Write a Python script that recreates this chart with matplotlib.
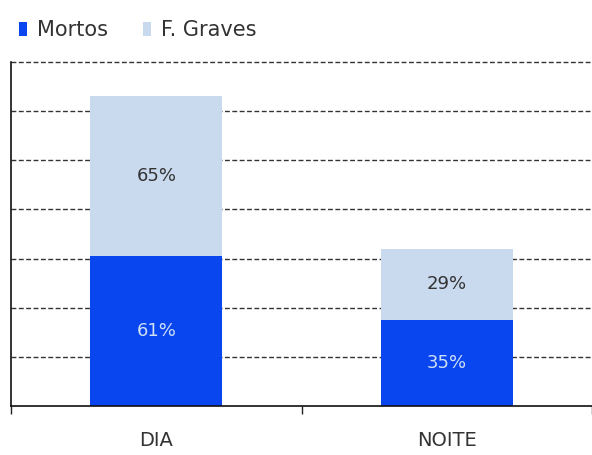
import matplotlib.pyplot as plt
from matplotlib.ticker import FixedLocator

plt.rcParams["font.family"] = ["DejaVu Sans"]

categories = ["DIA", "NOITE"]
mortos = [61, 35]
graves = [65, 29]
mortos_labels = ["61%", "35%"]
graves_labels = ["65%", "29%"]

blue = "#0a46ef"
light = "#c9d9ee"

fig = plt.figure(figsize=(5.92, 4.55), dpi=100)
ax = fig.add_axes([11 / 592, 1 - 406 / 455, 581 / 592, 344 / 455])

x = range(len(categories))
b1 = ax.bar(x, mortos, width=0.455, color=blue, label="Mortos", zorder=2)
b2 = ax.bar(x, graves, width=0.455, bottom=mortos, color=light,
            label="F. Graves", zorder=2)

for i in x:
    ax.text(i, mortos[i] / 2, mortos_labels[i], ha="center", va="center",
            color="#cfe0f5", fontsize=13)
    ax.text(i, mortos[i] + graves[i] / 2, graves_labels[i], ha="center",
            va="center", color="#333333", fontsize=13)

ax.set_xlim(-0.5, 1.5)
ax.set_ylim(0, 140)
ax.set_yticks(range(20, 141, 20))
ax.yaxis.grid(True, color="#333333", linestyle=(0, (3.5, 1.8)), linewidth=1.0,
              zorder=1)
for gl in ax.get_ygridlines():
    gl.set_clip_on(False)
ax.tick_params(axis="y", left=False, labelleft=False)

ax.set_xticks(list(x))
ax.set_xticklabels(categories, fontsize=14, color="#333333")
ax.tick_params(axis="x", which="major", length=0, pad=18)
ax.xaxis.set_minor_locator(FixedLocator([-0.5, 0.5, 1.5]))
ax.tick_params(axis="x", which="minor", length=6, width=1, direction="out",
               color="#222222")

for s in ["top", "right"]:
    ax.spines[s].set_visible(False)
ax.spines["left"].set_linewidth(1.2)
ax.spines["bottom"].set_linewidth(1.2)
ax.spines["left"].set_color("#111111")
ax.spines["bottom"].set_color("#111111")

fig.legend(handles=[b1, b2], loc="upper left", bbox_to_anchor=(19 / 592, 1 - 20 / 455),
           ncol=2, frameon=False, fontsize=15, handlelength=0.4,
           handleheight=0.65, handletextpad=0.45, columnspacing=1.7,
           borderaxespad=0, borderpad=0, labelcolor="#333333")

fig.savefig("out.png", dpi=100, facecolor="white")
